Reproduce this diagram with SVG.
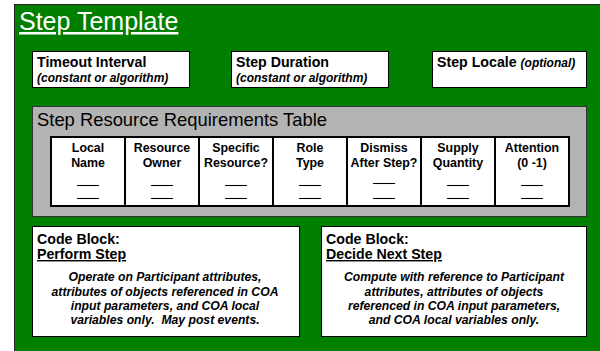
<svg xmlns="http://www.w3.org/2000/svg" width="600" height="351" viewBox="0 0 600 351">
  <style>
    text { font-family: "Liberation Sans", Arial, sans-serif; fill: #000; }
    .box { fill: #fff; stroke: #000; stroke-width: 1; }
    .h { font-size: 14.2px; font-weight: bold; }
    .sub { font-size: 12px; font-weight: bold; font-style: italic; }
    .col { font-size: 12.4px; font-weight: bold; text-anchor: middle; }
    .blank { font-size: 12.6px; font-weight: bold; text-anchor: middle; stroke: #000; stroke-width: 0.6; }
    .body { font-size: 12.2px; font-weight: bold; font-style: italic; text-anchor: middle; }
    .cell { fill: none; stroke: #000; stroke-width: 2; }
  </style>

  <!-- template frame -->
  <g id="template">
    <rect x="14.5" y="4.5" width="590" height="350" fill="#007f00" stroke="#222" stroke-width="1"/>
    <text x="19" y="30" font-size="25" style="fill:#fff" text-decoration="underline">Step Template</text>
  </g>

  <g id="timeout-interval">
    <rect class="box" x="32.5" y="51.5" width="157" height="36"/>
    <text class="h" x="37" y="67">Timeout Interval</text>
    <text class="sub" x="37" y="82">(constant or algorithm)</text>
  </g>

  <g id="step-duration">
    <rect class="box" x="231.5" y="51.5" width="157" height="36"/>
    <text class="h" x="236" y="67">Step Duration</text>
    <text class="sub" x="236" y="82">(constant or algorithm)</text>
  </g>

  <g id="step-locale">
    <rect class="box" x="432.5" y="51.5" width="154" height="36"/>
    <text class="h" x="437" y="67">Step Locale <tspan class="sub">(optional)</tspan></text>
  </g>

  <!-- resource requirements table -->
  <g id="resource-table">
    <rect x="32.5" y="106.5" width="554" height="110" fill="#b3b3b3" stroke="#333" stroke-width="1"/>
    <text x="37" y="126" font-size="18.4">Step Resource Requirements Table</text>
    <rect x="51" y="137" width="518" height="69" fill="#fff"/>
    <g class="cell">
      <rect x="51" y="137" width="518" height="69"/>
      <line x1="125" y1="137" x2="125" y2="206"/>
      <line x1="199" y1="137" x2="199" y2="206"/>
      <line x1="273" y1="137" x2="273" y2="206"/>
      <line x1="347" y1="137" x2="347" y2="206"/>
      <line x1="421" y1="137" x2="421" y2="206"/>
      <line x1="495" y1="137" x2="495" y2="206"/>
    </g>
    <g>
      <text class="col" x="88" y="152">Local</text>
      <text class="col" x="88" y="167">Name</text>
      <text class="col" x="162" y="152">Resource</text>
      <text class="col" x="162" y="167">Owner</text>
      <text class="col" x="236" y="152">Specific</text>
      <text class="col" x="236" y="167">Resource?</text>
      <text class="col" x="310" y="152">Role</text>
      <text class="col" x="310" y="167">Type</text>
      <text class="col" x="384" y="152">Dismiss</text>
      <text class="col" x="384" y="167">After Step?</text>
      <text class="col" x="458" y="152">Supply</text>
      <text class="col" x="458" y="167">Quantity</text>
      <text class="col" x="532" y="152">Attention</text>
      <text class="col" x="532" y="167">(0 -1)</text>
    </g>
    <g>
      <text class="blank" x="88" y="184">___</text>
      <text class="blank" x="88" y="197">___</text>
      <text class="blank" x="162" y="184">___</text>
      <text class="blank" x="162" y="197">___</text>
      <text class="blank" x="236" y="184">___</text>
      <text class="blank" x="236" y="197">___</text>
      <text class="blank" x="310" y="184">___</text>
      <text class="blank" x="310" y="197">___</text>
      <text class="blank" x="384" y="182">___</text>
      <text class="blank" x="384" y="197">___</text>
      <text class="blank" x="458" y="184">___</text>
      <text class="blank" x="458" y="197">___</text>
      <text class="blank" x="532" y="184">___</text>
      <text class="blank" x="532" y="197">___</text>
    </g>
  </g>

  <g id="perform-step">
    <rect class="box" x="32.5" y="226.5" width="267" height="110"/>
    <text class="h" x="37" y="244">Code Block:</text>
    <text class="h" x="37" y="259" text-decoration="underline">Perform Step</text>
    <text class="body" x="165" y="281">Operate on Participant attributes,</text>
    <text class="body" x="165" y="295.5">attributes of objects referenced in COA</text>
    <text class="body" x="165" y="310">input parameters, and COA local</text>
    <text class="body" x="165" y="324" xml:space="preserve">variables only.  May post events.</text>
  </g>

  <g id="decide-next-step">
    <rect class="box" x="321.5" y="226.5" width="265" height="110"/>
    <text class="h" x="326" y="244">Code Block:</text>
    <text class="h" x="326" y="259" text-decoration="underline">Decide Next Step</text>
    <text class="body" x="454" y="281">Compute with reference to Participant</text>
    <text class="body" x="454" y="295.5">attributes, attributes of objects</text>
    <text class="body" x="454" y="310">referenced in COA input parameters,</text>
    <text class="body" x="454" y="324">and COA local variables only.</text>
  </g>

  <!-- no connectors in this layout -->
  <g id="connectors"/>
</svg>
